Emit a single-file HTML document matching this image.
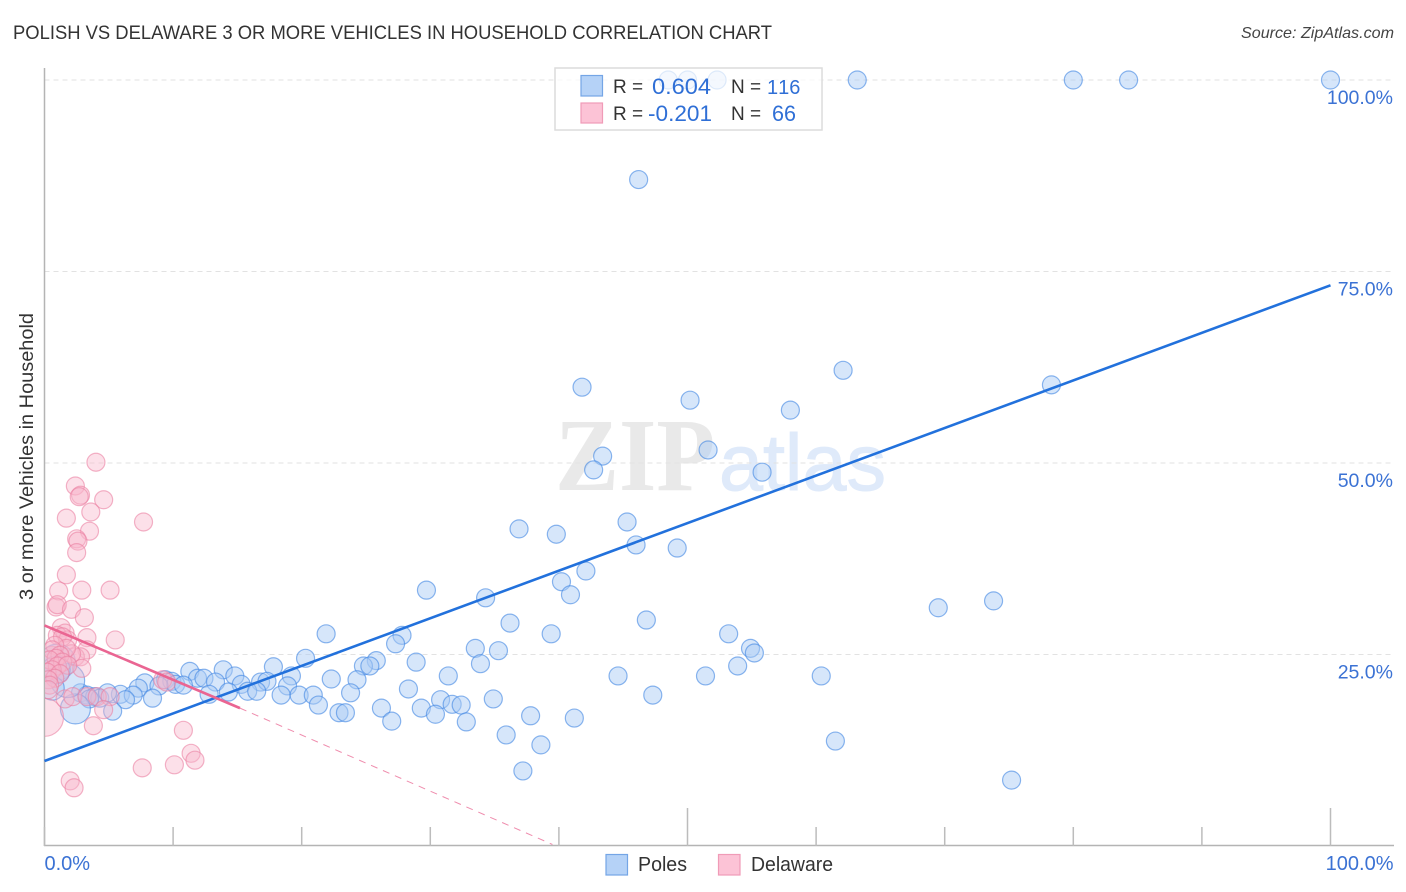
<!DOCTYPE html>
<html>
<head>
<meta charset="utf-8">
<title>Polish vs Delaware chart</title>
<style>
html,body{margin:0;padding:0;background:#fff;}
svg{display:block;}
text{font-family:"Liberation Sans",sans-serif;}
</style>
</head>
<body>
<svg id="chart" width="1406" height="892" viewBox="0 0 1406 892" xmlns="http://www.w3.org/2000/svg">
  <defs><clipPath id="plot-clip"><rect x="45" y="60" width="1349" height="786"/></clipPath></defs>
  <text x="13" y="39" font-size="19.5" fill="#333" textLength="759" lengthAdjust="spacingAndGlyphs">POLISH VS DELAWARE 3 OR MORE VEHICLES IN HOUSEHOLD CORRELATION CHART</text>
  <text x="1241" y="38" font-size="16" font-style="italic" fill="#444" textLength="153" lengthAdjust="spacingAndGlyphs">Source: ZipAtlas.com</text>
  <text x="555" y="490" font-size="104" font-weight="bold" fill="#e9e9e9" textLength="160" lengthAdjust="spacingAndGlyphs" style="font-family:'Liberation Serif',serif">ZIP</text>
  <text x="719" y="490" font-size="80" fill="#dfeafa" stroke="#dfeafa" stroke-width="1" textLength="167" lengthAdjust="spacingAndGlyphs">atlas</text>
  <g id="grid"></g>
  <g id="axes"></g>
  <g id="marks" clip-path="url(#plot-clip)"></g>
  <g id="lines"></g>
  <text transform="translate(33,456.5) rotate(-90)" font-size="19.5" fill="#333" text-anchor="middle" textLength="287" lengthAdjust="spacingAndGlyphs">3 or more Vehicles in Household</text>
  <g>
    <rect x="555" y="68" width="267" height="62" fill="#fff" fill-opacity="0.72" stroke="#dcdcdc" stroke-width="1.5"/>
    <rect x="581" y="75.5" width="21.5" height="20.5" fill="#b5d2f7" stroke="#74a5e6" stroke-width="1.2"/>
    <rect x="581" y="103" width="21.5" height="20" fill="#fcc3d6" stroke="#f09bb7" stroke-width="1.2"/>
    <text x="613" y="93" font-size="19" fill="#333">R =</text>
    <text x="652" y="94" font-size="22" fill="#2f6fd6" textLength="59" lengthAdjust="spacingAndGlyphs">0.604</text>
    <text x="731" y="93" font-size="19" fill="#333">N =</text>
    <text x="767" y="94" font-size="20" fill="#2f6fd6" style="font-kerning:none;font-feature-settings:'kern' 0">116</text>
    <text x="613" y="120" font-size="19" fill="#333">R =</text>
    <text x="648" y="121" font-size="22" fill="#2f6fd6" textLength="64" lengthAdjust="spacingAndGlyphs">-0.201</text>
    <text x="731" y="120" font-size="19" fill="#333">N =</text>
    <text x="772" y="121" font-size="22" fill="#2f6fd6" textLength="24" lengthAdjust="spacingAndGlyphs">66</text>
  </g>
  <g>
    <rect x="606" y="854.5" width="21.5" height="20.5" fill="#b5d2f7" stroke="#74a5e6" stroke-width="1.2"/>
    <text x="638" y="871" font-size="20" fill="#333" textLength="49" lengthAdjust="spacingAndGlyphs">Poles</text>
    <rect x="718.5" y="854.5" width="21.5" height="20.5" fill="#fcc3d6" stroke="#f09bb7" stroke-width="1.2"/>
    <text x="751" y="871" font-size="20" fill="#333" textLength="82" lengthAdjust="spacingAndGlyphs">Delaware</text>
  </g>
</svg>
<script>
var polesX = [63.2,80.0,84.3,100,48.5,50.0,52.3,46.2,41.8,50.2,62.1,78.3,58.0,51.6,43.4,42.7,55.8,36.9,39.8,45.3,46.0,49.2,42.1,40.2,40.9,29.7,34.3,69.5,73.8,46.8,36.2,39.4,21.9,27.8,27.3,53.2,54.9,55.2,33.5,35.3,20.3,25.8,28.9,33.9,24.8,25.3,17.8,53.9,11.3,13.9,44.6,51.4,60.4,31.4,14.8,19.2,22.3,24.3,11.9,12.4,9.4,9.9,7.8,10.2,13.3,16.8,17.3,15.3,18.9,10.8,8.9,7.3,28.3,47.3,23.8,14.3,15.8,16.5,18.4,19.8,20.9,12.8,5.9,6.9,8.4,6.3,34.9,30.8,21.3,31.7,32.4,29.3,26.2,41.2,37.8,30.4,22.9,23.4,27.0,32.8,35.9,38.6,61.5,37.2,75.2,2.8,3.3,3.9,4.3,3.5,4.9,5.3];
var polesY = [100,100,100,100,100,100,100,87.0,59.9,58.2,62.1,60.2,56.9,51.7,50.9,49.1,48.8,41.4,40.7,42.3,39.3,38.9,35.9,34.5,32.8,33.4,32.4,31.1,32.0,29.5,29.1,27.7,27.7,27.5,26.4,27.7,25.8,25.2,25.8,25.5,24.5,24.2,24.0,23.8,23.5,23.5,23.4,23.5,22.8,23.0,22.2,22.2,22.2,22.2,22.2,22.2,21.8,21.7,21.9,21.9,21.7,21.5,21.3,21.1,21.4,21.4,21.5,21.1,20.9,21.0,20.9,20.6,20.5,19.7,20.0,20.1,20.2,20.2,19.7,19.7,19.7,19.8,19.8,19.7,19.3,19.1,19.2,19.1,18.4,18.5,18.4,18.0,18.0,16.7,17.0,17.2,17.4,17.4,16.3,16.2,14.5,13.2,13.7,9.8,8.6,20.0,19.7,19.5,19.3,19.2,20.0,17.6];
var polesLargeX = [2.4,1.0,1.8,0.9,0.6];
var polesLargeY = [17.9,24.0,21.6,23.0,20.6];
var polesLargeSize = [15,18,17,14,12];
var delawareX = [4.0,2.4,2.8,2.7,4.6,3.6,1.7,7.7,3.5,2.5,2.6,2.5,1.7,1.1,2.9,5.1,0.9,1.0,2.1,3.1,3.8,10.8,11.4,11.7,7.6,10.1,2.0,2.3,1.3,1.6,1.0,1.8,1.4,3.3,5.5,3.3,2.4,2.8,2.1,2.9,1.7,0.8,0.6,1.2,0.9,0.4,1.4,1.0,1.8,0.6,0.2,1.2,0.8,0.3,0.4,0.3,1.6,2.2,3.3,4.1,5.1,4.6,9.2,9.5];
var delawareY = [50.1,47.0,45.8,45.6,45.2,43.6,42.8,42.3,41.1,40.1,39.8,38.3,35.4,33.3,33.4,33.4,31.2,31.5,30.9,29.8,15.7,15.1,12.1,11.2,10.2,10.6,8.5,7.6,28.5,27.8,27.5,26.9,27.3,27.2,26.9,25.6,24.7,24.7,25.1,23.2,25.8,26.2,25.6,24.9,24.5,24.3,24.0,23.5,23.6,23.0,22.7,22.5,21.9,21.7,21.0,20.4,19.2,19.5,19.5,19.5,19.5,17.8,21.7,21.4];
var delawareLargeX = [0.0,0.6];
var delawareLargeY = [16.8,24.5];
var delawareLargeSize = [19,12];
var polesTrendX = [0,100];
var polesTrendY = [11.1,73.2];
var delawareTrendX = [0,15.2];
var delawareTrendY = [28.8,18.0];
var delawareDashX = [15.2,39.5];
var delawareDashY = [18.0,0.2];
var yTickValues = [25,50,75,100];
var yTickLabels = ["25.0%","50.0%","75.0%","100.0%"];
var xTickValues = [0,10,20,30,40,50,60,70,80,90,100];
var xEndValues = [0,100];
var xEndLabels = ["0.0%","100.0%"];

function xScale(v){ return 44.5 + v * 12.86; }
function yScale(v){ return 846 - v * 7.66; }
var NS = 'http://www.w3.org/2000/svg';
function make(parent, tag, attrs, txt){
  var el = document.createElementNS(NS, tag);
  for (var k in attrs) el.setAttribute(k, attrs[k]);
  if (txt !== undefined) el.textContent = txt;
  parent.appendChild(el);
  return el;
}
var grid = document.getElementById('grid');
var axes = document.getElementById('axes');
var marks = document.getElementById('marks');
var lines = document.getElementById('lines');

yTickValues.forEach(function(v, i){
  var g = make(grid, 'line', {x1:44.5, x2:1393, y1:yScale(v), y2:yScale(v), stroke:'#e2e2e2', 'stroke-width':1, 'stroke-dasharray':'5 4'});
  
  
  var t = make(axes, 'text', {x:1393, y:yScale(v) + 24, 'font-size':19.5, fill:'#3b72d4', 'text-anchor':'end'}, yTickLabels[i]);
  
  
});

var yAxis = make(axes, 'line', {x1:44.5, x2:44.5, y1:68, y2:846, stroke:'#b4b4b4', 'stroke-width':1.5});


var xAxis = make(axes, 'line', {x1:44, x2:1394, y1:845.5, y2:845.5, stroke:'#b4b4b4', 'stroke-width':1.5});



xTickValues.forEach(function(v){
  var tall = (v === 50 || v === 100);
  var tick = make(axes, 'line', {x1:xScale(v), x2:xScale(v), y1:tall ? 808 : 827, y2:846, stroke:'#bcbcbc', 'stroke-width':1.5});
  
  
});
xEndValues.forEach(function(v, i){
  var anchorEnd = i === 1;
  var t = make(axes, 'text', {x:anchorEnd ? xScale(v) + 63 : xScale(v), y:870, 'font-size':20, fill:'#3b72d4', 'text-anchor':anchorEnd ? 'end' : 'start'}, xEndLabels[i]);
  
  
});

function drawPoles(xs, ys, sizes){
  xs.forEach(function(v, i){
    var c = make(marks, 'circle', {cx:xScale(v), cy:yScale(ys[i]), r:sizes ? sizes[i] : 9, fill:'#a9cbf4', 'fill-opacity':0.48, stroke:'#3f86e2', 'stroke-opacity':0.6, 'stroke-width':1.2});
    
    
  });
}
function drawDelaware(xs, ys, sizes){
  xs.forEach(function(v, i){
    var c = make(marks, 'circle', {cx:xScale(v), cy:yScale(ys[i]), r:sizes ? sizes[i] : 9, fill:'#f9b6cb', 'fill-opacity':0.42, stroke:'#ea7da1', 'stroke-opacity':0.58, 'stroke-width':1.2});
    
    
  });
}
drawPoles(polesX, polesY);
drawPoles(polesLargeX, polesLargeY, polesLargeSize);
drawDelaware(delawareLargeX, delawareLargeY, delawareLargeSize);
drawDelaware(delawareX, delawareY);

var lineA = make(lines, 'line', {x1:xScale(polesTrendX[0]), y1:yScale(polesTrendY[0]), x2:xScale(polesTrendX[1]), y2:yScale(polesTrendY[1]), stroke:'#2271dc', 'stroke-width':2.6});


var lineB = make(lines, 'line', {x1:xScale(delawareTrendX[0]), y1:yScale(delawareTrendY[0]), x2:xScale(delawareTrendX[1]), y2:yScale(delawareTrendY[1]), stroke:'#ea6592', 'stroke-width':2.6});


var lineC = make(lines, 'line', {x1:xScale(delawareDashX[0]), y1:yScale(delawareDashY[0]), x2:xScale(delawareDashX[1]), y2:yScale(delawareDashY[1]), stroke:'#ea6592', 'stroke-width':1, 'stroke-opacity':0.75, 'stroke-dasharray':'7 6'});


</script>
</body>
</html>
